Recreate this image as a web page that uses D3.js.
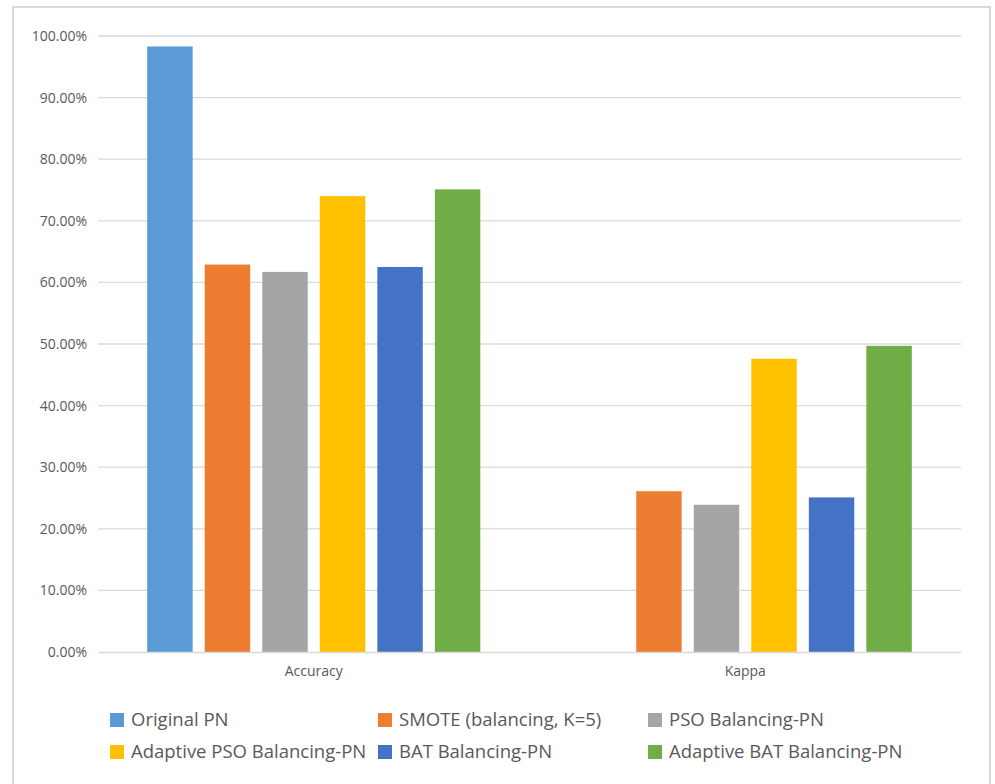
<!DOCTYPE html>
<html>
<head>
<meta charset="utf-8">
<script src="https://cdn.jsdelivr.net/npm/d3@7"></script>
<style>
  html, body { margin: 0; padding: 0; background: #fff; }
  svg { display: block; font-family: "Open Sans", "Noto Sans", sans-serif; }
</style>
</head>
<body>
<svg id="chart" width="995" height="784"></svg>
<script>
// Metrics on the x axis
const categories = ["Accuracy", "Kappa"];

// Methods compared (one bar per method in each metric group)
const seriesNames = [
  "Original PN",
  "SMOTE (balancing, K=5)",
  "PSO Balancing-PN",
  "Adaptive PSO Balancing-PN",
  "BAT Balancing-PN",
  "Adaptive BAT Balancing-PN"
];

// Values per method, in the order of `categories` (fractions)
const originalPN   = [0.983, 0.0];
const smote        = [0.629, 0.261];
const psoBal       = [0.617, 0.239];
const adaptivePso  = [0.740, 0.476];
const batBal       = [0.625, 0.251];
const adaptiveBat  = [0.751, 0.497];

const seriesValues = [originalPN, smote, psoBal, adaptivePso, batBal, adaptiveBat];

const seriesColors = ["#5B9BD5", "#ED7D31", "#A5A5A5", "#FFC000", "#4472C4", "#70AD47"];

// Y axis ticks
const yTicks = [0, 0.1, 0.2, 0.3, 0.4, 0.5, 0.6, 0.7, 0.8, 0.9, 1.0];

const svg = d3.select("#chart");

// Chart frame
svg.append("rect")
  .attr("x", 13).attr("y", 7)
  .attr("width", 977).attr("height", 800)
  .attr("fill", "#fff")
  .attr("stroke", "#d9d9d9")
  .attr("stroke-width", 2);

const plot = { left: 98, right: 961, top: 36, bottom: 652 };

const y = d3.scaleLinear().domain([0, 1]).range([plot.bottom, plot.top]);

const x0 = d3.scaleBand()
  .domain(categories)
  .range([plot.left, plot.right])
  .paddingInner(0).paddingOuter(0);

const x1 = d3.scaleBand()
  .domain(seriesNames)
  .range([0, x0.bandwidth()])
  .paddingInner(0.21)
  .paddingOuter(0.855);

// Gridlines
svg.append("g")
  .selectAll("line")
  .data(yTicks.filter(d => d > 0))
  .join("line")
  .attr("x1", plot.left).attr("x2", plot.right)
  .attr("y1", d => y(d)).attr("y2", d => y(d))
  .attr("stroke", "#d9d9d9")
  .attr("stroke-width", 1.3);

// Y axis labels
const fmt = d3.format(".2%");
const yAxis = svg.append("g")
  .attr("transform", `translate(${plot.left - 11},0)`)
  .call(d3.axisLeft(y).tickValues(yTicks).tickFormat(fmt).tickSize(0).tickPadding(0));
yAxis.select(".domain").remove();
yAxis.selectAll("text")
  .attr("fill", "#595959")
  .style("font-size", "14px")
  .style("font-family", "\"Open Sans\", \"Noto Sans\", sans-serif");

// Bars
const groups = svg.append("g")
  .selectAll("g")
  .data(categories)
  .join("g")
  .attr("transform", d => `translate(${x0(d)},0)`);

groups.selectAll("rect")
  .data((cat, ci) => seriesNames.map((name, si) => ({ name, value: seriesValues[si][ci], color: seriesColors[si] })))
  .join("rect")
  .attr("x", d => x1(d.name))
  .attr("width", x1.bandwidth())
  .attr("y", d => y(d.value))
  .attr("height", d => y(0) - y(d.value))
  .attr("fill", d => d.color);

// X axis baseline and category labels
const xAxis = svg.append("g")
  .attr("transform", `translate(0,${plot.bottom})`)
  .call(d3.axisBottom(x0).tickSize(0).tickPadding(14));
xAxis.select(".domain")
  .attr("stroke", "#d9d9d9")
  .attr("stroke-width", 1.5);
xAxis.selectAll("text")
  .attr("fill", "#595959")
  .style("font-size", "14px")
  .style("font-family", "\"Open Sans\", \"Noto Sans\", sans-serif");

// Legend: three columns, two rows
const legendCols = [110, 378, 648];
const legendRows = [720, 752];
const legend = svg.append("g")
  .selectAll("g")
  .data(seriesNames)
  .join("g")
  .attr("transform", (d, i) => `translate(${legendCols[i % 3]},${legendRows[Math.floor(i / 3)]})`);

legend.append("rect")
  .attr("x", 0).attr("y", -7)
  .attr("width", 14).attr("height", 14)
  .attr("fill", (d, i) => seriesColors[i]);

legend.append("text")
  .attr("x", 21).attr("y", 0)
  .attr("dy", "0.35em")
  .attr("fill", "#595959")
  .style("font-size", "18.5px")
  .text(d => d);
</script>
</body>
</html>
